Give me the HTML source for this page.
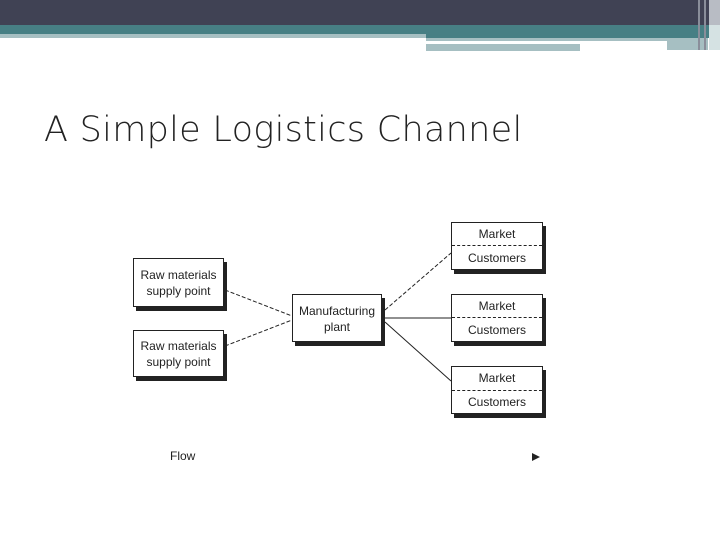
<!DOCTYPE html>
<html><head><style>
body{margin:0;width:720px;height:540px;overflow:hidden;background:#fff;position:relative;font-family:"Liberation Sans",sans-serif}
.a{position:absolute}
.box{position:absolute;border:1px solid #222;background:#fff;box-shadow:3px 4px 0 #222;font-size:12px;color:#222;text-align:center;line-height:16px}
</style></head><body>
<div class="a" style="left:0;top:0;width:720px;height:25px;background:#404254"></div>
<div class="a" style="left:0;top:25px;width:720px;height:9px;background:#477f84"></div>
<div class="a" style="left:426px;top:34px;width:294px;height:4px;background:#477f84"></div>
<div class="a" style="left:0;top:34px;width:426px;height:4px;background:#a6bfc2"></div>
<div class="a" style="left:426px;top:38px;width:282px;height:3px;background:#a6bfc2"></div>
<div class="a" style="left:426px;top:44px;width:154px;height:7px;background:#a6bfc2"></div>
<div class="a" style="left:667px;top:38px;width:41px;height:12px;background:#a6bfc2"></div>
<div class="a" style="left:698px;top:0;width:2px;height:50px;background:#8a8e9a"></div>
<div class="a" style="left:704px;top:0;width:2px;height:50px;background:#8a8e9a"></div>
<div class="a" style="left:709px;top:0;width:11px;height:25px;background:#b8bcc4"></div>
<div class="a" style="left:709px;top:25px;width:11px;height:25px;background:#d5e2e3"></div>
<div class="a" style="left:44px;top:110px;font-size:35px;color:#222;letter-spacing:0.3px;font-family:'DejaVu Sans',sans-serif;font-weight:300">A Simple Logistics Channel</div>
<svg class="a" style="left:0;top:0" width="720" height="540">
<g stroke="#222" stroke-width="1" fill="none">
<line x1="225" y1="290" x2="292" y2="316" stroke-dasharray="4,2"/>
<line x1="225" y1="346" x2="292" y2="320" stroke-dasharray="4,2"/>
<line x1="385" y1="310" x2="451" y2="253" stroke-dasharray="4,2"/>
<line x1="385" y1="318" x2="451" y2="318"/>
<line x1="385" y1="322" x2="451" y2="381"/>
</g>
<polygon points="532,453 540,457 532,461" fill="#222"/>
</svg>
<div class="box" style="left:133px;top:258px;width:91px;height:49px;padding-top:8px;box-sizing:border-box">Raw materials<br>supply point</div>
<div class="box" style="left:133px;top:330px;width:91px;height:47px;padding-top:7px;box-sizing:border-box">Raw materials<br>supply point</div>
<div class="box" style="left:292px;top:294px;width:90px;height:48px;padding-top:8px;box-sizing:border-box">Manufacturing<br>plant</div>
<div class="box" style="left:451px;top:222px;width:92px;height:48px;box-sizing:border-box"><div style="height:22px;line-height:22px;border-bottom:1px dashed #222">Market</div><div style="line-height:24px">Customers</div></div>
<div class="box" style="left:451px;top:294px;width:92px;height:48px;box-sizing:border-box"><div style="height:22px;line-height:22px;border-bottom:1px dashed #222">Market</div><div style="line-height:24px">Customers</div></div>
<div class="box" style="left:451px;top:366px;width:92px;height:48px;box-sizing:border-box"><div style="height:23px;line-height:23px;border-bottom:1px dashed #222">Market</div><div style="line-height:23px">Customers</div></div>
<div class="a" style="left:170px;top:449px;font-size:12px;color:#222">Flow</div>
</body></html>
